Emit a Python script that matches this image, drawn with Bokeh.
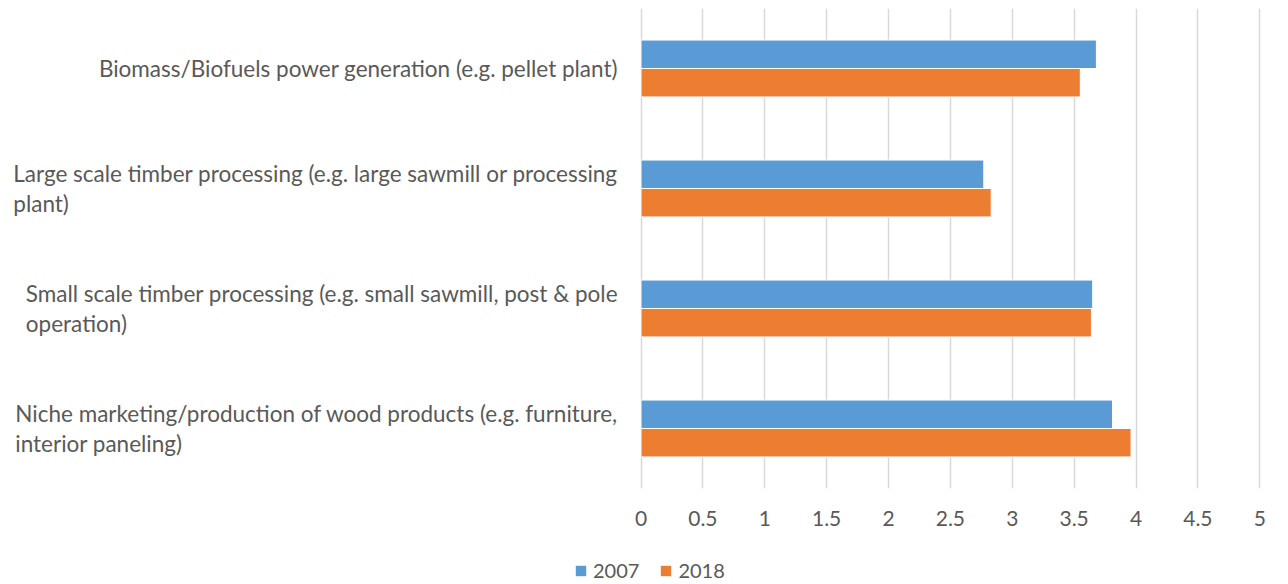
from bokeh.plotting import figure
from bokeh.layouts import column
from bokeh.models import (ColumnDataSource, Range1d, FixedTicker, NumeralTickFormatter,
                          Legend, LegendItem, Label)
from bokeh.embed import file_html
from bokeh.resources import INLINE

categories = [
    "Biomass/Biofuels power generation (e.g. pellet plant)",
    "Large scale timber processing (e.g. large sawmill or processing\nplant)",
    "Small scale timber processing (e.g. small sawmill, post & pole\noperation)",
    "Niche marketing/production of wood products (e.g. furniture,\ninterior paneling)",
]
series_names = ["2007", "2018"]
values_2007 = [3.68, 2.77, 3.65, 3.81]
values_2018 = [3.55, 2.83, 3.64, 3.96]
x_ticks = [0, 0.5, 1, 1.5, 2, 2.5, 3, 3.5, 4, 4.5, 5]

FONT = "Lato"
TXT = "#595959"
BLUE = "#5B9BD5"
ORANGE = "#ED7D31"

n = len(categories)
ypos = [n - 1 - i for i in range(n)]
bar_h = 0.237
off = bar_h / 2

src07 = ColumnDataSource(dict(y=[v + off for v in ypos], right=values_2007))
src18 = ColumnDataSource(dict(y=[v - off for v in ypos], right=values_2018))

px_per_unit = 123.75
x_start = -632.5 / px_per_unit
frame_w = 1256
x_end = x_start + frame_w / px_per_unit

W = 1280
p = figure(width=W, height=548, output_backend="svg", toolbar_location=None,
           x_range=Range1d(x_start, x_end), y_range=Range1d(-0.5, 3.5),
           y_axis_location=None, min_border_left=8, min_border_top=8,
           min_border_right=16, min_border_bottom=60)
p.outline_line_color = None
p.background_fill_color = "white"
p.border_fill_color = "white"

r07 = p.hbar(y="y", right="right", left=0, height=bar_h, source=src07,
             fill_color=BLUE, line_color="white", line_width=1)
r18 = p.hbar(y="y", right="right", left=0, height=bar_h, source=src18,
             fill_color=ORANGE, line_color="white", line_width=1)

p.xaxis.ticker = FixedTicker(ticks=x_ticks)
p.xaxis.formatter = NumeralTickFormatter(format="0.[0]")
p.xaxis.axis_line_color = None
p.xaxis.major_tick_line_color = None
p.xaxis.minor_tick_line_color = None
p.xaxis.major_tick_out = 0
p.xaxis.major_label_standoff = 22
p.xaxis.major_label_text_font = FONT
p.xaxis.major_label_text_font_size = "21px"
p.xaxis.major_label_text_color = TXT

p.xgrid.ticker = FixedTicker(ticks=x_ticks)
p.xgrid.grid_line_color = "#D9D9D9"
p.xgrid.grid_line_width = 1.5
p.ygrid.grid_line_color = None

for cat, yv in zip(categories, ypos):
    p.add_layout(Label(x=0, y=yv, x_offset=-23, text=cat, anchor="center_right",
                       text_align="left", text_font=FONT, text_font_size="22.5px",
                       text_color=TXT, text_line_height=1.1))

# legend strip below the chart
pl = figure(width=W, height=36, output_backend="svg", toolbar_location=None,
            x_range=Range1d(0, 1), y_range=Range1d(0, 1),
            x_axis_location=None, y_axis_location=None,
            min_border_left=0, min_border_top=0, min_border_right=0, min_border_bottom=0)
pl.outline_line_color = None
pl.grid.visible = False
# off-screen placeholder renderers, only used to style the legend swatches
l07 = pl.hbar(y=[-10], right=[1], left=0, height=0.1, fill_color=BLUE, line_color=None)
l18 = pl.hbar(y=[-10], right=[1], left=0, height=0.1, fill_color=ORANGE, line_color=None)

legend = Legend(items=[LegendItem(label=series_names[0], renderers=[l07]),
                       LegendItem(label=series_names[1], renderers=[l18])],
                orientation="horizontal", location=(566, 2),
                glyph_width=13, glyph_height=13, label_standoff=6, spacing=20,
                padding=0, margin=0, border_line_color=None,
                background_fill_alpha=0, label_height=20,
                label_text_font=FONT, label_text_font_size="20px",
                label_text_color=TXT)
pl.add_layout(legend)

open("out.html", "w").write(file_html(column(p, pl), INLINE))
